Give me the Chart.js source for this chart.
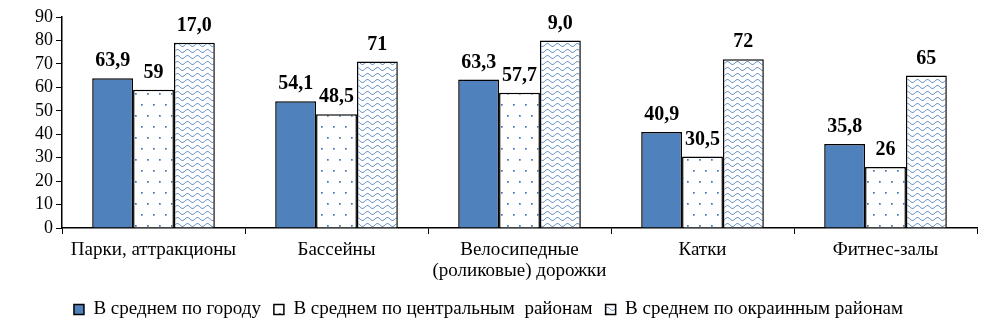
<!DOCTYPE html>
<html>
<head>
<meta charset="utf-8">
<script src="https://cdn.jsdelivr.net/npm/chart.js@4/dist/chart.umd.min.js"></script>
<style>
  html, body { margin: 0; padding: 0; background: #fff; }
  #wrap { width: 1000px; height: 333px; }
</style>
</head>
<body>
<div id="wrap"><canvas id="chart" width="1000" height="333"></canvas></div>
<script>
// --- данные ---
const categories = [
  "Парки, аттракционы",
  "Бассейны",
  ["Велосипедные", "(роликовые) дорожки"],
  "Катки",
  "Фитнес-залы"
];
const seriesNames = [
  "В среднем по городу",
  "В среднем по центральным  районам",
  "В среднем по окраинным районам"
];
const cityValues = [63.9, 54.1, 63.3, 40.9, 35.8];
const centralValues = [59, 48.5, 57.7, 30.5, 26];
const outerValues = [79, 71, 80, 72, 65];

// подписи над столбцами (как на исходном рисунке)
const cityLabels = ["63,9", "54,1", "63,3", "40,9", "35,8"];
const centralLabels = ["59", "48,5", "57,7", "30,5", "26"];
const outerLabels = ["17,0", "71", "9,0", "72", "65"];

const yTicks = [0, 10, 20, 30, 40, 50, 60, 70, 80, 90];

const BLUE = "#4f81bd";
const FONT = "Liberation Serif";

// --- узоры ---
function dotPattern() {
  const c = document.createElement("canvas");
  c.width = 12; c.height = 22;
  const g = c.getContext("2d");
  g.fillStyle = "#fff";
  g.fillRect(0, 0, 12, 22);
  g.fillStyle = "#3f72b5";
  g.fillRect(3, 5, 1.7, 1.7);
  g.fillRect(9, 16, 1.7, 1.7);
  return g.createPattern(c, "repeat");
}

function wavePattern() {
  const c = document.createElement("canvas");
  c.width = 10; c.height = 6;
  const g = c.getContext("2d");
  g.fillStyle = "#fff";
  g.fillRect(0, 0, 10, 6);
  g.strokeStyle = "#4a7ebf";
  g.lineWidth = 1;
  g.beginPath();
  for (let x = 0; x <= 10; x += 0.5) {
    const y = 3 + 1.5 * Math.sin((x / 10) * Math.PI * 2);
    if (x === 0) g.moveTo(x, y); else g.lineTo(x, y);
  }
  g.stroke();
  return g.createPattern(c, "repeat");
}

// --- подписи значений ---
const valueLabels = {
  id: "valueLabels",
  afterDatasetsDraw(chart) {
    const ctx = chart.ctx;
    const all = [cityLabels, centralLabels, outerLabels];
    ctx.save();
    ctx.font = "bold 20px " + FONT;
    ctx.fillStyle = "#000";
    ctx.textAlign = "center";
    ctx.textBaseline = "bottom";
    chart.data.datasets.forEach((ds, i) => {
      chart.getDatasetMeta(i).data.forEach((bar, j) => {
        ctx.fillText(all[i][j], bar.x, bar.y - 7);
      });
    });
    ctx.restore();
  }
};

const ctx = document.getElementById("chart");
new Chart(ctx, {
  type: "bar",
  data: {
    labels: categories,
    datasets: [
      { label: seriesNames[0], data: cityValues, backgroundColor: BLUE },
      { label: seriesNames[1], data: centralValues, backgroundColor: dotPattern() },
      { label: seriesNames[2], data: outerValues, backgroundColor: wavePattern() }
    ].map(d => Object.assign(d, {
      borderColor: "#000",
      borderWidth: 1.5,
      borderSkipped: "bottom",
      categoryPercentage: 0.67,
      barPercentage: 1
    }))
  },
  options: {
    responsive: false,
    animation: false,
    layout: { padding: { top: 17, right: 23, left: 0, bottom: 4 } },
    scales: {
      x: {
        afterFit: (axis) => { axis.height = 59; },
        grid: { drawOnChartArea: false, color: "#000", tickLength: 6, offset: true },
        border: { color: "#000", width: 1.5 },
        ticks: { color: "#000", font: { family: FONT, size: 19, lineHeight: 1.1 }, maxRotation: 0, padding: 6 }
      },
      y: {
        min: 0, max: 90,
        afterBuildTicks: (axis) => { axis.ticks = yTicks.map(v => ({ value: v })); },
        afterFit: (axis) => { axis.width = 62; },
        grid: { drawOnChartArea: false, color: "#000", tickLength: 6 },
        border: { color: "#000", width: 1.5 },
        ticks: { color: "#000", font: { family: FONT, size: 18 }, padding: 3, autoSkip: false }
      }
    },
    plugins: {
      tooltip: { enabled: false },
      legend: {
        position: "bottom",
        labels: {
          color: "#000",
          font: { family: FONT, size: 19 },
          boxWidth: 10,
          boxHeight: 10,
          padding: 13
        }
      }
    }
  },
  plugins: [valueLabels]
});
</script>
</body>
</html>
